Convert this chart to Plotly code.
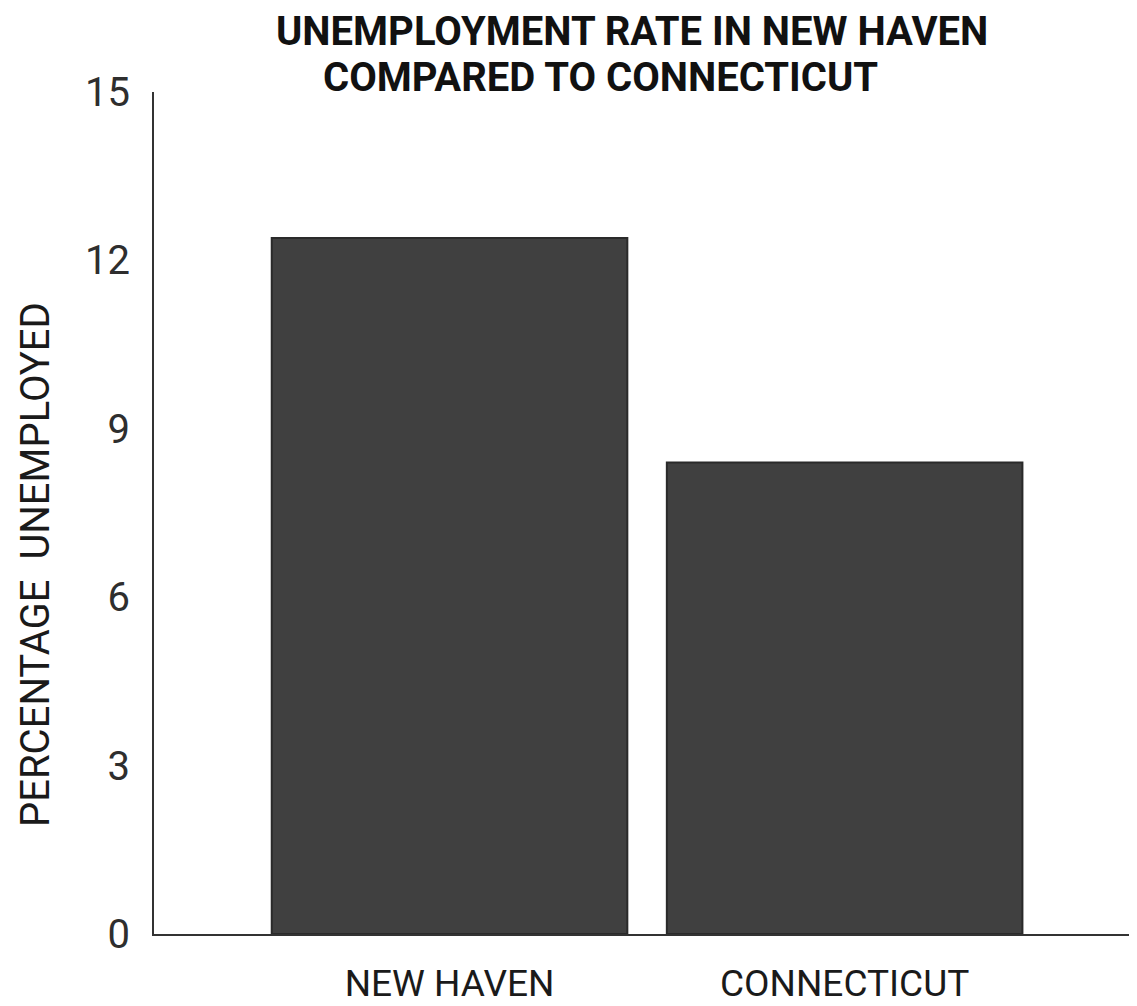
import plotly.graph_objects as go

categories = ["NEW HAVEN", "CONNECTICUT"]
values = [12.4, 8.4]
y_ticks = [0, 3, 6, 9, 12, 15]
title_line1 = "UNEMPLOYMENT RATE IN NEW HAVEN"
title_line2 = "COMPARED TO CONNECTICUT"
y_title = "PERCENTAGE  UNEMPLOYED"

FONT = "Roboto, Liberation Sans, sans-serif"

# page body has an 8px margin, so the figure is laid out slightly smaller
OFF = 8
W, H = 1129, 998
L, R, T, B = 146, 0, 84, 72

fig = go.Figure()
fig.add_trace(go.Bar(
    x=categories, y=values, width=0.9,
    marker=dict(color="#404040", line=dict(color="#2a2a2a", width=2)),
))

fig.update_layout(
    width=W, height=H,
    margin=dict(l=L, r=R, t=T, b=B, autoexpand=False),
    paper_bgcolor="white", plot_bgcolor="white",
    showlegend=False,
    font=dict(family=FONT, color="#222222"),
    xaxis=dict(
        range=[-0.748, 1.74], showgrid=False, zeroline=False, automargin=False,
        showline=True, linecolor="#333333", linewidth=2,
        ticks="", tickfont=dict(size=37, family=FONT, color="#1a1a1a"),
        ticklabelstandoff=16,
    ),
    yaxis=dict(
        range=[0, 15], tickvals=y_ticks, showgrid=False, zeroline=False, automargin=False,
        showline=True, linecolor="#333333", linewidth=2,
        ticks="", tickfont=dict(size=40, family=FONT, color="#2e2e2e"),
        ticklabelstandoff=14,
    ),
)

plot_w = W - L - R
plot_h = H - T - B


def px_to_paper(px_x, px_y):
    fx = px_x - OFF
    fy = px_y - OFF
    return (fx - L) / plot_w, (H - B - fy) / plot_h


titles = [(title_line1, 632, 32), (title_line2, 600, 77)]
for txt, px_x, px_y in titles:
    ax, ay = px_to_paper(px_x, px_y)
    fig.add_annotation(
        text="<b>" + txt + "</b>", x=ax, y=ay,
        xref="paper", yref="paper", xanchor="center", yanchor="middle",
        showarrow=False, font=dict(size=40, family=FONT, color="#111111"),
    )

ax, ay = px_to_paper(35, 565)
fig.add_annotation(
    text=y_title, x=ax, y=ay, textangle=-90,
    xref="paper", yref="paper", xanchor="center", yanchor="middle",
    showarrow=False, font=dict(size=40, family=FONT, color="#1a1a1a"),
)

fig.write_html("out.html")
